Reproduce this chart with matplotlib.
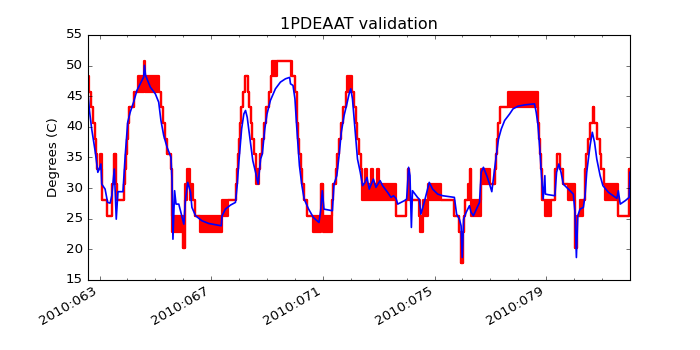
import numpy as np
import matplotlib
matplotlib.use('Agg')
import matplotlib.pyplot as plt
from matplotlib.ticker import FixedLocator, MultipleLocator, FuncFormatter

# telemetry: step start (day of year 2010), low / high level (band where it flickers)
red_t = [62.569, 62.641, 62.695, 62.767, 62.838, 62.874, 62.928, 63.018, 63.072, 63.262,
         63.442, 63.521, 63.575, 63.610, 63.862, 63.898, 63.934, 63.969, 64.005, 64.041,
         64.221, 64.382, 64.598, 64.634, 65.118, 65.190, 65.262, 65.352, 65.424, 65.549,
         65.596, 65.998, 66.052, 66.142, 66.250, 66.339, 66.436, 66.616, 67.391, 67.596,
         67.873, 67.908, 67.944, 67.980, 68.016, 68.063, 68.135, 68.206, 68.325, 68.361,
         68.411, 68.469, 68.530, 68.591, 68.709, 68.745, 68.817, 68.889, 68.961, 69.068,
         69.129, 69.187, 69.366, 69.847, 69.894, 70.002, 70.063, 70.085, 70.110, 70.146,
         70.207, 70.264, 70.325, 70.444, 70.659, 70.925, 71.018, 71.341, 71.377, 71.463,
         71.521, 71.582, 71.643, 71.736, 71.822, 71.880, 72.059, 72.120, 72.181, 72.239,
         72.300, 72.361, 72.418, 72.515, 72.587, 72.731, 72.803, 72.946, 73.018, 73.618,
         73.977, 74.034, 74.095, 74.454, 74.490, 74.573, 74.752, 75.234, 75.711, 75.865,
         75.962, 76.009, 76.070, 76.106, 76.189, 76.268, 76.311, 76.670, 76.968, 77.148,
         77.183, 77.219, 77.266, 77.327, 77.625, 78.702, 78.727, 78.788, 78.824, 78.860,
         78.943, 79.183, 79.327, 79.384, 79.481, 79.600, 79.779, 80.020, 80.045, 80.117,
         80.200, 80.318, 80.379, 80.426, 80.487, 80.584, 80.677, 80.713, 80.835, 80.918,
         80.979, 81.072, 81.097, 81.575, 81.959]
red_lo = [45.7, 45.7, 43.2, 40.6, 38.1, 35.6, 33.1, 33.1, 28.0, 25.5,
          30.6, 35.6, 30.6, 28.0, 30.6, 33.1, 35.6, 38.1, 40.6, 43.2,
          45.7, 45.7, 48.3, 45.7, 45.7, 43.2, 40.6, 38.1, 35.6, 33.1,
          22.9, 20.3, 28.0, 30.6, 28.0, 28.0, 25.5, 22.9, 25.5, 28.0,
          30.6, 33.1, 35.6, 38.1, 40.6, 43.2, 45.7, 48.3, 45.7, 43.2,
          40.6, 38.1, 35.6, 30.6, 33.1, 35.6, 38.1, 40.6, 43.2, 45.7,
          48.3, 48.3, 50.8, 48.3, 48.3, 45.7, 43.2, 40.6, 38.1, 35.6,
          33.1, 30.6, 28.0, 25.5, 22.9, 30.6, 22.9, 28.0, 30.6, 33.1,
          35.6, 38.1, 40.6, 43.2, 45.7, 45.7, 45.7, 43.2, 40.6, 38.1,
          35.6, 33.1, 28.0, 28.0, 28.0, 28.0, 28.0, 28.0, 28.0, 25.5,
          28.0, 33.1, 28.0, 25.5, 22.9, 25.5, 28.0, 28.0, 25.5, 22.9,
          17.8, 22.9, 25.5, 28.0, 28.0, 33.1, 25.5, 30.6, 30.6, 33.1,
          35.6, 38.1, 40.6, 43.2, 43.2, 40.6, 38.1, 35.6, 33.1, 28.0,
          25.5, 28.0, 33.1, 35.6, 33.1, 30.6, 28.0, 22.9, 20.3, 25.5,
          25.5, 28.0, 33.1, 35.6, 38.1, 40.6, 43.2, 40.6, 38.1, 35.6,
          33.1, 30.6, 28.0, 25.5, 33.1]
red_hi = [48.3, 45.7, 43.2, 40.6, 38.1, 35.6, 33.1, 35.6, 28.0, 25.5,
          30.6, 35.6, 30.6, 28.0, 30.6, 33.1, 35.6, 38.1, 40.6, 43.2,
          45.7, 48.3, 50.8, 48.3, 45.7, 43.2, 40.6, 38.1, 35.6, 33.1,
          25.5, 20.3, 30.6, 33.1, 30.6, 28.0, 25.5, 25.5, 28.0, 28.0,
          30.6, 33.1, 35.6, 38.1, 40.6, 43.2, 45.7, 48.3, 45.7, 43.2,
          40.6, 38.1, 35.6, 33.1, 33.1, 35.6, 38.1, 40.6, 43.2, 45.7,
          48.3, 50.8, 50.8, 50.8, 48.3, 45.7, 43.2, 40.6, 38.1, 35.6,
          33.1, 30.6, 28.0, 25.5, 25.5, 30.6, 25.5, 28.0, 30.6, 33.1,
          35.6, 38.1, 40.6, 43.2, 45.7, 48.3, 45.7, 43.2, 40.6, 38.1,
          35.6, 33.1, 30.6, 33.1, 30.6, 33.1, 30.6, 33.1, 30.6, 25.5,
          28.0, 33.1, 28.0, 28.0, 25.5, 28.0, 30.6, 28.0, 25.5, 22.9,
          17.8, 22.9, 25.5, 28.0, 30.6, 33.1, 28.0, 33.1, 30.6, 33.1,
          35.6, 38.1, 40.6, 43.2, 45.7, 40.6, 38.1, 35.6, 33.1, 28.0,
          28.0, 28.0, 33.1, 35.6, 33.1, 30.6, 30.6, 22.9, 20.3, 25.5,
          28.0, 28.0, 33.1, 35.6, 38.1, 40.6, 43.2, 40.6, 38.1, 35.6,
          33.1, 30.6, 30.6, 25.5, 33.1]
red_end = 81.995

# model prediction
blue_t = [62.57, 62.64, 62.72, 62.85, 62.94, 62.99, 63.05, 63.08, 63.20, 63.29,
          63.38, 63.44, 63.53, 63.60, 63.66, 63.84, 63.92, 64.01, 64.10, 64.22,
          64.34, 64.52, 64.58, 64.61, 64.65, 64.82, 65.00, 65.12, 65.20, 65.30,
          65.42, 65.56, 65.60, 65.63, 65.69, 65.74, 65.84, 66.02, 66.08, 66.16,
          66.26, 66.31, 66.44, 66.67, 66.91, 67.15, 67.36, 67.39, 67.51, 67.69,
          67.87, 67.93, 67.99, 68.09, 68.17, 68.23, 68.29, 68.39, 68.49, 68.59,
          68.68, 68.77, 68.83, 68.92, 69.00, 69.12, 69.30, 69.48, 69.66, 69.81,
          69.84, 69.93, 70.00, 70.06, 70.16, 70.25, 70.33, 70.49, 70.66, 70.86,
          70.92, 70.98, 71.04, 71.34, 71.40, 71.50, 71.58, 71.66, 71.76, 71.86,
          71.94, 72.00, 72.06, 72.15, 72.24, 72.34, 72.42, 72.51, 72.58, 72.66,
          72.81, 72.90, 73.05, 73.14, 73.32, 73.44, 73.53, 73.62, 73.68, 73.80,
          73.92, 74.00, 74.07, 74.12, 74.17, 74.21, 74.39, 74.45, 74.51, 74.63,
          74.75, 74.81, 74.93, 75.11, 75.29, 75.53, 75.71, 75.79, 75.89, 75.95,
          75.99, 76.04, 76.13, 76.19, 76.25, 76.31, 76.39, 76.61, 76.67, 76.75,
          76.87, 76.97, 77.05, 77.12, 77.21, 77.29, 77.39, 77.51, 77.69, 77.81,
          77.99, 78.23, 78.58, 78.64, 78.70, 78.77, 78.83, 78.89, 78.95, 78.97,
          79.07, 79.31, 79.37, 79.45, 79.53, 79.61, 79.79, 79.97, 80.03, 80.08,
          80.13, 80.21, 80.33, 80.39, 80.45, 80.57, 80.65, 80.73, 80.81, 80.93,
          81.03, 81.23, 81.53, 81.58, 81.65, 81.83, 81.97, 82.00]
blue_v = [46.49, 42.68, 39.66, 35.85, 32.58, 33.12, 33.94, 30.66, 29.84, 27.67,
          27.55, 28.76, 33.12, 24.93, 29.42, 29.42, 35.31, 40.76, 42.40, 44.03,
          45.95, 47.59, 48.13, 50.04, 48.40, 46.49, 45.39, 44.03, 41.04, 38.58,
          36.67, 35.03, 30.94, 21.66, 29.58, 27.39, 27.39, 24.12, 28.21, 30.94,
          29.30, 26.85, 25.49, 24.67, 24.23, 24.02, 23.85, 25.49, 26.57, 27.23,
          27.67, 30.40, 34.21, 39.66, 42.12, 42.68, 41.58, 38.03, 34.49, 32.58,
          30.66, 34.75, 35.57, 39.66, 42.12, 44.31, 46.21, 47.31, 47.85, 48.08,
          47.03, 46.77, 44.57, 40.22, 33.67, 30.40, 28.21, 26.57, 25.21, 24.39,
          26.31, 29.58, 26.57, 26.31, 30.66, 32.04, 35.31, 39.12, 41.86, 43.76,
          45.39, 46.21, 44.57, 39.66, 34.75, 32.58, 30.40, 30.94, 31.76, 29.84,
          31.48, 30.12, 31.22, 30.40, 29.30, 28.49, 28.76, 28.32, 27.39, 27.67,
          27.95, 28.21, 33.40, 32.04, 23.58, 29.58, 28.49, 28.21, 25.75, 27.67,
          29.84, 30.94, 29.84, 29.03, 28.76, 28.60, 28.49, 25.75, 24.93, 23.85,
          18.67, 24.93, 26.03, 26.57, 27.13, 26.03, 25.49, 27.67, 32.58, 33.40,
          32.04, 30.66, 29.42, 32.04, 35.31, 38.03, 39.66, 41.04, 42.12, 42.94,
          43.38, 43.59, 43.76, 42.40, 40.48, 36.39, 32.04, 28.21, 32.04, 29.03,
          28.93, 28.76, 32.58, 33.94, 32.58, 30.66, 29.84, 29.03, 26.03, 18.67,
          25.49, 26.57, 26.85, 28.76, 32.58, 36.95, 39.12, 37.49, 34.75, 32.04,
          30.40, 29.30, 28.32, 29.58, 27.39, 27.95, 28.49, 32.58]

day_ticks = [63, 67, 71, 75, 79]
y_ticks = [15, 20, 25, 30, 35, 40, 45, 50, 55]

plt.style.use('classic')
fig, ax = plt.subplots(figsize=(8.75, 4.375), dpi=80)
fig.patch.set_facecolor('white')

t = np.append(red_t, red_end)
lo = np.append(red_lo, red_lo[-1])
hi = np.append(red_hi, red_hi[-1])
ax.fill_between(t, lo, hi, step='post', color='red', lw=0)
ax.step(t, lo, where='post', color='red', lw=2)
ax.step(t, hi, where='post', color='red', lw=2)

ax.plot(blue_t, blue_v, color='blue', lw=1.5)

ax.set_xlim(62.57, 82.0)
ax.set_ylim(15, 55)
ax.yaxis.set_major_locator(FixedLocator(y_ticks))
ax.xaxis.set_major_locator(FixedLocator(day_ticks))
ax.xaxis.set_minor_locator(MultipleLocator(1))
ax.xaxis.set_major_formatter(FuncFormatter(lambda x, pos: '2010:%03d' % round(x)))

ax.set_title('1PDEAAT validation')
ax.set_ylabel('Degrees (C)')
fig.autofmt_xdate()

fig.savefig('out.png', dpi=80, facecolor='white')
